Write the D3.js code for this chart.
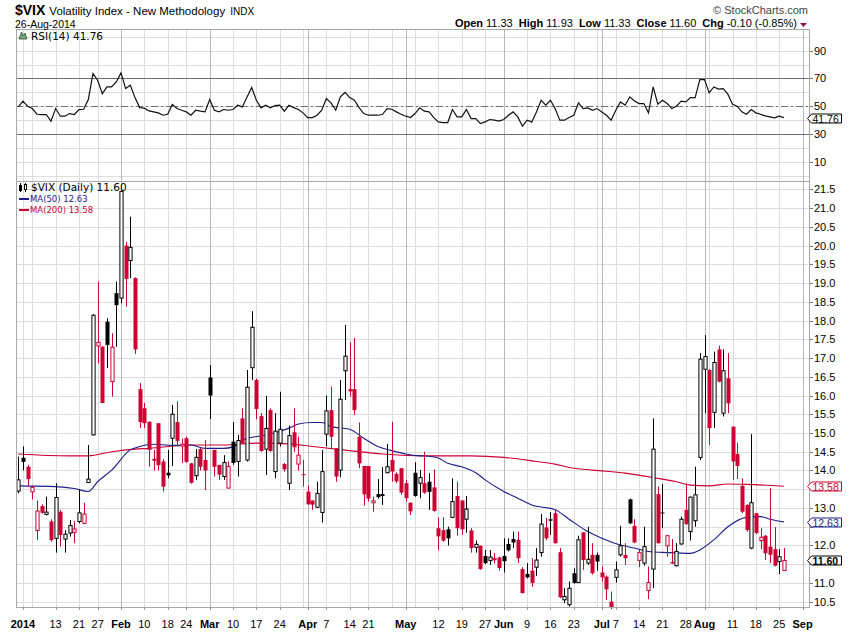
<!DOCTYPE html>
<html>
<head>
<meta charset="utf-8">
<script src="https://cdn.jsdelivr.net/npm/d3@7"></script>
<style>
  body { margin: 0; background: #fff; }
  svg { display: block; font-family: "Liberation Sans", Arial, sans-serif; }
</style>
</head>
<body>
<div id="chart"></div>
<script>
// Trading days shown on the chart (Dec 31 2013 .. Aug 26 2014)
const dates = [
  "2013-12-31",
  "2014-01-02","2014-01-03","2014-01-06","2014-01-07","2014-01-08","2014-01-09","2014-01-10",
  "2014-01-13","2014-01-14","2014-01-15","2014-01-16","2014-01-17","2014-01-21","2014-01-22",
  "2014-01-23","2014-01-24","2014-01-27","2014-01-28","2014-01-29","2014-01-30","2014-01-31",
  "2014-02-03","2014-02-04","2014-02-05","2014-02-06","2014-02-07","2014-02-10","2014-02-11",
  "2014-02-12","2014-02-13","2014-02-14","2014-02-18","2014-02-19","2014-02-20","2014-02-21",
  "2014-02-24","2014-02-25","2014-02-26","2014-02-27","2014-02-28",
  "2014-03-03","2014-03-04","2014-03-05","2014-03-06","2014-03-07","2014-03-10","2014-03-11",
  "2014-03-12","2014-03-13","2014-03-14","2014-03-17","2014-03-18","2014-03-19","2014-03-20",
  "2014-03-21","2014-03-24","2014-03-25","2014-03-26","2014-03-27","2014-03-28","2014-03-31",
  "2014-04-01","2014-04-02","2014-04-03","2014-04-04","2014-04-07","2014-04-08","2014-04-09",
  "2014-04-10","2014-04-11","2014-04-14","2014-04-15","2014-04-16","2014-04-17","2014-04-21",
  "2014-04-22","2014-04-23","2014-04-24","2014-04-25","2014-04-28","2014-04-29","2014-04-30",
  "2014-05-01","2014-05-02","2014-05-05","2014-05-06","2014-05-07","2014-05-08","2014-05-09",
  "2014-05-12","2014-05-13","2014-05-14","2014-05-15","2014-05-16","2014-05-19","2014-05-20",
  "2014-05-21","2014-05-22","2014-05-23","2014-05-27","2014-05-28","2014-05-29","2014-05-30",
  "2014-06-02","2014-06-03","2014-06-04","2014-06-05","2014-06-06","2014-06-09","2014-06-10",
  "2014-06-11","2014-06-12","2014-06-13","2014-06-16","2014-06-17","2014-06-18","2014-06-19",
  "2014-06-20","2014-06-23","2014-06-24","2014-06-25","2014-06-26","2014-06-27","2014-06-30",
  "2014-07-01","2014-07-02","2014-07-03","2014-07-07","2014-07-08","2014-07-09","2014-07-10",
  "2014-07-11","2014-07-14","2014-07-15","2014-07-16","2014-07-17","2014-07-18","2014-07-21",
  "2014-07-22","2014-07-23","2014-07-24","2014-07-25","2014-07-28","2014-07-29","2014-07-30",
  "2014-07-31","2014-08-01","2014-08-04","2014-08-05","2014-08-06","2014-08-07","2014-08-08",
  "2014-08-11","2014-08-12","2014-08-13","2014-08-14","2014-08-15","2014-08-18","2014-08-19",
  "2014-08-20","2014-08-21","2014-08-22","2014-08-25","2014-08-26"
];
// empty slots on the right side of the chart
const futureDates = ["2014-08-27","2014-08-28","2014-08-29","2014-09-02"];

const opens = [
  13.45,
  14.34,14.10,13.43,12.40,13.05,12.83,12.64,12.19,12.90,12.17,12.33,12.35,12.64,12.59,13.68,14.95,17.32,17.30,17.97,16.37,18.73,
  18.60,20.00,19.60,19.13,16.17,15.66,15.30,14.28,15.26,14.24,13.94,14.86,15.29,14.65,14.86,14.19,13.86,14.57,14.28,
  16.48,14.55,14.15,13.84,13.53,14.77,14.24,15.39,14.28,16.74,16.41,15.45,14.57,15.61,13.97,14.73,14.17,13.66,15.02,14.17,13.90,
  13.44,13.20,13.02,12.88,14.97,15.61,14.59,14.01,16.66,16.17,16.17,14.90,14.12,14.12,13.14,13.37,13.37,13.94,14.28,13.91,14.06,
  13.66,13.14,13.94,13.66,13.66,13.70,13.55,12.46,12.41,12.43,12.75,13.32,13.20,12.70,12.40,11.95,11.99,11.72,11.60,11.62,11.68,
  11.72,12.04,12.17,12.15,11.37,11.24,11.33,11.42,11.81,12.48,12.70,12.86,11.82,10.55,10.42,11.26,11.01,12.35,11.53,11.75,11.75,
  11.28,11.17,10.50,11.15,11.75,11.75,13.23,12.52,11.60,11.53,10.80,11.37,13.37,12.88,11.99,11.56,11.46,12.04,12.95,12.37,12.66,14.35,
  16.70,16.68,15.55,17.23,15.53,16.46,15.17,14.44,13.59,13.08,11.93,12.86,12.13,12.26,11.97,11.90,11.57,11.33
];
const highs = [
  14.37,
  14.64,14.15,13.60,13.20,13.10,13.30,12.70,13.66,12.95,12.41,12.68,12.65,13.48,13.14,14.68,18.17,19.04,17.32,18.06,17.66,19.04,
  21.48,20.10,20.77,19.15,16.33,15.80,15.30,14.55,15.26,14.30,14.55,15.75,15.84,14.85,14.90,14.20,14.57,14.60,14.81,
  16.81,14.55,14.15,14.41,14.24,15.29,14.95,15.66,16.68,18.25,16.45,15.53,15.99,15.66,15.53,16.10,14.20,15.20,15.66,14.90,14.28,
  13.60,13.20,13.70,14.55,16.00,16.24,14.60,16.41,17.88,17.42,17.53,15.28,14.12,14.12,13.30,13.77,14.09,14.71,15.30,13.95,14.06,
  13.75,13.15,14.22,14.01,14.50,13.93,14.03,12.75,12.75,12.50,13.79,13.70,13.20,13.32,12.46,12.13,12.00,11.88,11.88,11.80,11.70,
  12.19,12.19,12.37,12.37,11.42,11.53,11.66,11.93,12.84,12.73,12.89,12.95,11.93,10.86,11.04,11.39,12.26,12.35,12.50,12.06,11.81,
  11.44,11.20,10.77,11.57,12.52,12.06,13.25,12.70,11.88,12.50,11.44,15.39,13.57,13.64,12.27,12.17,12.06,12.77,13.66,13.30,14.10,17.13,
  17.61,16.70,17.17,17.33,17.23,17.13,15.17,14.74,13.79,13.10,14.97,12.87,12.46,12.28,13.53,12.49,11.90,11.93
];
const lows = [
  13.39,
  14.00,13.60,13.23,12.15,12.85,12.80,12.10,11.81,11.97,11.81,12.24,12.06,12.59,12.57,13.68,14.93,16.86,15.80,16.73,15.97,17.30,
  18.46,18.37,19.13,17.11,15.13,15.13,14.10,14.00,14.00,13.44,13.79,14.12,14.64,14.20,14.20,13.65,13.75,14.00,13.48,
  15.37,13.84,13.75,13.75,13.53,14.15,13.84,14.70,14.24,16.41,15.37,14.50,13.88,14.50,13.79,14.64,13.97,13.48,14.50,14.00,13.57,
  13.08,12.95,13.00,12.61,14.64,14.57,13.70,13.82,15.88,15.97,15.48,14.06,13.06,13.17,12.90,13.25,13.08,13.93,13.70,13.66,13.35,
  13.17,12.81,13.30,13.26,13.38,12.95,12.90,11.88,12.10,12.00,12.73,12.26,12.28,12.34,11.81,11.81,11.35,11.50,11.48,11.52,11.33,
  11.28,11.84,11.93,11.53,10.72,11.12,10.90,11.19,11.70,12.14,12.28,12.05,10.60,10.46,10.37,10.98,11.00,11.35,11.48,11.22,11.33,
  11.04,10.55,10.30,11.01,11.70,11.48,12.57,12.06,11.42,11.46,10.57,10.86,12.05,12.46,11.70,11.50,11.44,12.02,12.55,12.13,12.50,14.28,
  15.53,14.68,15.13,16.35,15.44,15.53,13.75,13.77,12.86,12.37,11.90,12.30,11.90,11.61,11.53,11.44,11.24,11.33
];
const closes = [
  13.75,
  14.23,13.77,13.55,12.92,12.87,12.89,12.14,13.28,12.28,12.30,12.53,12.44,12.87,12.84,13.77,18.14,17.42,15.80,17.35,17.29,18.41,
  21.44,19.11,19.95,17.23,15.29,15.26,14.55,14.30,14.14,13.57,13.87,15.50,14.79,14.70,14.23,13.67,14.35,14.10,14.00,
  16.00,14.10,13.89,14.21,14.11,14.20,14.80,14.73,16.22,17.82,15.64,14.52,15.12,14.52,15.05,15.10,14.03,14.93,14.62,14.41,13.88,
  13.10,13.09,13.39,13.97,15.59,14.90,13.84,15.90,17.05,16.11,15.61,14.19,13.36,13.25,13.19,13.29,13.32,14.10,13.97,13.71,13.41,
  13.26,12.91,13.32,13.81,13.41,13.43,12.92,12.24,12.13,12.19,13.17,12.46,12.43,12.97,11.93,12.03,11.37,11.53,11.69,11.65,11.40,
  11.58,11.87,12.08,11.66,10.73,11.15,11.00,11.61,12.57,12.19,12.66,12.06,10.62,10.64,10.86,11.00,12.15,11.61,11.63,11.26,11.57,
  11.15,10.83,10.33,11.35,11.99,11.66,12.59,12.08,11.81,11.97,11.01,14.57,12.06,12.86,12.26,11.52,11.84,12.70,12.57,13.29,13.35,16.97,
  17.04,15.13,16.88,16.37,16.66,15.79,14.24,14.12,12.90,12.41,13.14,12.33,12.22,11.79,11.75,11.46,11.70,11.60
];
const prevClose = 13.56; // close before the first bar, sets its colour

const rsi = [
  49.5,
  53.6,50.0,48.3,44.2,44.0,44.0,39.2,48.3,42.8,42.8,44.7,44.0,47.6,47.8,54.8,73.5,68.7,59.1,63.9,63.9,67.5,
  74.0,62.7,65.1,56.2,49.0,48.6,46.6,45.9,45.2,43.5,44.2,51.2,48.3,47.1,45.9,43.5,47.1,46.4,45.9,
  54.8,47.1,45.9,47.6,47.1,47.6,50.7,49.5,56.7,63.5,54.3,48.8,50.7,48.8,50.5,50.7,46.4,50.7,49.0,47.6,45.2,
  41.8,41.8,43.5,47.1,55.5,52.4,47.1,56.7,59.9,56.2,54.3,49.0,44.7,43.5,43.5,43.5,44.0,48.3,47.8,45.9,44.2,
  42.8,41.8,44.7,48.8,46.4,45.9,41.8,38.7,38.2,38.2,47.6,42.3,42.3,47.6,41.1,41.1,37.5,38.7,40.4,39.9,39.2,
  40.4,43.5,45.9,42.3,35.6,39.9,38.7,45.9,54.3,50.7,54.3,48.3,39.9,39.9,41.8,43.5,52.4,48.3,48.8,47.1,48.3,
  45.9,43.5,39.9,47.1,53.1,50.7,56.7,53.8,51.9,51.9,45.2,63.9,51.4,54.3,51.9,48.3,50.0,53.6,53.1,56.2,56.2,69.2,
  69.2,59.6,63.9,62.3,62.7,58.7,51.4,50.0,45.9,44.2,47.6,45.2,44.2,43.0,42.3,41.6,42.8,41.76
];

const ma50 = [
  [0,13.59],[8,13.57],[12,13.52],[15,13.44],[17,13.70],[20,14.01],[24,14.55],[26,14.64],[29,14.70],
  [33,14.67],[37,14.68],[40,14.59],[44,14.59],[46,14.63],[49,14.86],[52,14.92],[56,15.04],[58,15.13],
  [60,15.24],[63,15.28],[65,15.28],[67,15.17],[71,15.10],[74,14.86],[77,14.64],[80,14.53],[83,14.44],
  [86,14.39],[88,14.38],[90,14.33],[92,14.19],[95,14.10],[98,13.94],[100,13.75],[104,13.44],[107,13.26],
  [110,13.08],[115,12.95],[118,12.70],[122,12.37],[125,12.19],[129,12.01],[132,11.93],[135,11.84],
  [139,11.81],[144,11.79],[146,11.88],[149,12.15],[152,12.50],[156,12.75],[159,12.77],[161,12.70],[164,12.63]
];
const ma200 = [
  [0,14.44],[11,14.39],[15,14.39],[20,14.50],[25,14.57],[28,14.59],[37,14.68],[44,14.68],[51,14.73],
  [58,14.71],[63,14.64],[71,14.53],[78,14.44],[88,14.39],[97,14.39],[104,14.35],[111,14.24],[115,14.17],
  [118,14.08],[123,14.01],[130,13.93],[137,13.79],[141,13.70],[144,13.61],[148,13.59],[152,13.64],
  [156,13.63],[164,13.58]
];

const priceTicks = [10.5,11.0,11.5,12.0,12.5,13.0,13.5,14.0,14.5,15.0,15.5,16.0,16.5,17.0,17.5,18.0,18.5,19.0,19.5,20.0,20.5,21.0,21.5];
const rsiTicks = [10,30,50,70,90];
const rsiGrid = [0,10,20,30,40,50,60,70,80,90,100];

const tickDates = ["2014-01-02","2014-01-13","2014-01-21","2014-01-27","2014-02-03","2014-02-10","2014-02-18","2014-02-24",
  "2014-03-03","2014-03-10","2014-03-17","2014-03-24","2014-04-01","2014-04-07","2014-04-14","2014-04-21",
  "2014-05-01","2014-05-12","2014-05-19","2014-05-27","2014-06-02","2014-06-09","2014-06-16","2014-06-23",
  "2014-07-01","2014-07-07","2014-07-14","2014-07-21","2014-07-28","2014-08-01","2014-08-11","2014-08-18",
  "2014-08-25","2014-09-02"];
const tickLabels = ["2014","13","21","27","Feb","10","18","24","Mar","10","17","24","Apr","7","14","21",
  "May","12","19","27","Jun","9","16","23","Jul","7","14","21","28","Aug","11","18","25","Sep"];
const monthTicks = ["2014","Feb","Mar","Apr","May","Jun","Jul","Aug","Sep"];
// week starts that get a grid line but no label
const extraGridDates = ["2014-01-06","2014-03-31","2014-04-28","2014-05-05","2014-06-30","2014-08-04"];

const headerParts = [["Open","11.33"],["High","11.93"],["Low","11.33"],["Close","11.60"],["Chg","-0.10 (-0.85%)"]];

// colours
const red = "#cc0033";
const navy = "#1c1c8a";

const width = 850, height = 633;
const left = 16, right = 810;
const rsiTop = 29.5, mainTop = 181.5, mainBottom = 607;

const allDates = dates.concat(futureDates);
const dateIndex = new Map(allDates.map((d, i) => [d, i]));

const x = d3.scaleLinear().domain([-0.49, 169.6]).range([left, right]);
const y = d3.scaleLinear().domain([21.5, 10.5]).range([189.3, 601.7]);
const yR = d3.scaleLinear().domain([90, 10]).range([50.7, 161.7]);

const svg = d3.select("#chart").append("svg")
    .attr("width", width)
    .attr("height", height);

// ---- grid ----
const grid = svg.append("g").attr("shape-rendering", "crispEdges");

grid.selectAll("line.hp")
  .data(priceTicks)
  .join("line")
    .attr("x1", left).attr("x2", right)
    .attr("y1", d => Math.round(y(d)) + 0.5)
    .attr("y2", d => Math.round(y(d)) + 0.5)
    .attr("stroke", "#dddddd");

grid.selectAll("line.hr")
  .data(rsiGrid)
  .join("line")
    .attr("x1", left).attr("x2", right)
    .attr("y1", d => Math.round(yR(d)) + 0.5)
    .attr("y2", d => Math.round(yR(d)) + 0.5)
    .attr("stroke", "#dddddd");

const vGrid = tickDates.map((d, i) => ({ d, month: monthTicks.includes(tickLabels[i]) && tickLabels[i] !== "2014" }))
  .concat(extraGridDates.map(d => ({ d, month: false })));

grid.selectAll("line.v")
  .data(vGrid)
  .join("line")
    .attr("x1", d => Math.round(x(dateIndex.get(d.d))) + 0.5)
    .attr("x2", d => Math.round(x(dateIndex.get(d.d))) + 0.5)
    .attr("y1", rsiTop).attr("y2", mainBottom)
    .attr("stroke", d => d.month ? "#b9b9b9" : "#dddddd");

// ---- RSI panel ----
const rsiG = svg.append("g");

rsiG.selectAll("line.lvl")
  .data([70, 30])
  .join("line")
    .attr("x1", left).attr("x2", right)
    .attr("y1", d => Math.round(yR(d)) + 0.5)
    .attr("y2", d => Math.round(yR(d)) + 0.5)
    .attr("stroke", "#707070")
    .attr("shape-rendering", "crispEdges");

rsiG.append("line")
    .attr("x1", left).attr("x2", right)
    .attr("y1", Math.round(yR(50)) + 0.5)
    .attr("y2", Math.round(yR(50)) + 0.5)
    .attr("stroke", "#707070")
    .attr("stroke-dasharray", "7,3,2,3")
    .attr("shape-rendering", "crispEdges");

rsiG.append("path")
    .datum(rsi)
    .attr("fill", "none")
    .attr("stroke", "#111")
    .attr("stroke-width", 1.2)
    .attr("d", d3.line().x((d, i) => x(i)).y(d => yR(d)));

// ---- moving averages ----
const maLine = d3.line().x(d => x(d[0])).y(d => y(d[1])).curve(d3.curveMonotoneX);

svg.append("path")
    .datum(ma200)
    .attr("fill", "none")
    .attr("stroke", red)
    .attr("stroke-width", 1.1)
    .attr("d", maLine);

svg.append("path")
    .datum(ma50)
    .attr("fill", "none")
    .attr("stroke", navy)
    .attr("stroke-width", 1.1)
    .attr("d", maLine);

// ---- candles ----
const candles = dates.map((d, i) => ({
  i,
  o: opens[i], h: highs[i], l: lows[i], c: closes[i],
  up: closes[i] >= (i === 0 ? prevClose : closes[i - 1])
}));

const candle = svg.append("g")
  .selectAll("g")
  .data(candles)
  .join("g");

candle.append("line")
    .attr("x1", d => Math.round(x(d.i)) + 0.5)
    .attr("x2", d => Math.round(x(d.i)) + 0.5)
    .attr("y1", d => y(d.h))
    .attr("y2", d => y(d.l))
    .attr("stroke", d => d.up ? "#000" : red)
    .attr("stroke-width", 1);

candle.append("rect")
    .attr("x", d => Math.round(x(d.i)) + 0.5 - (d.c > d.o ? 1.6 : 2))
    .attr("width", d => d.c > d.o ? 3.2 : 4)
    .attr("y", d => Math.min(y(d.o), y(d.c)))
    .attr("height", d => Math.max(1, Math.abs(y(d.o) - y(d.c))))
    .attr("fill", d => d.c > d.o ? "#fff" : (d.up ? "#000" : red))
    .attr("stroke", d => d.c > d.o ? (d.up ? "#000" : red) : "none")
    .attr("stroke-width", 1);

// ---- panel borders ----
svg.append("g")
    .attr("shape-rendering", "crispEdges")
    .attr("fill", "none")
    .attr("stroke", "#a8a8a8")
  .selectAll("rect")
  .data([[rsiTop, mainTop], [mainTop, mainBottom]])
  .join("rect")
    .attr("x", left + 0.5)
    .attr("y", d => d[0])
    .attr("width", right - left - 1)
    .attr("height", d => d[1] - d[0]);

// value tags on the right axis
const tags = [
  { v: 13.58, yPos: y(13.58), color: red, bold: false },
  { v: 12.63, yPos: y(12.63), color: navy, bold: false },
  { v: 11.60, yPos: y(11.60), color: "#000", bold: true },
  { v: 41.76, yPos: yR(41.76), color: "#000", bold: false }
];

// ---- right axis (labels under a tag are hidden, as on the original) ----
const freeOfTags = py => tags.every(t => Math.abs(t.yPos - py) > 7);

const axisG = svg.append("g").attr("font-size", 11).attr("fill", "#000");

axisG.selectAll("text.p")
  .data(priceTicks.filter(d => freeOfTags(y(d))))
  .join("text")
    .attr("x", 814)
    .attr("y", d => y(d) + 4)
    .text(d => d.toFixed(1));

axisG.selectAll("text.r")
  .data(rsiTicks)
  .join("text")
    .attr("x", 814)
    .attr("y", d => yR(d) + 4)
    .text(d => d);

svg.append("g")
    .attr("stroke", "#777")
    .attr("shape-rendering", "crispEdges")
  .selectAll("line")
  .data(priceTicks.map(y).concat(rsiTicks.map(yR)))
  .join("line")
    .attr("x1", right).attr("x2", right + 3)
    .attr("y1", d => Math.round(d) + 0.5)
    .attr("y2", d => Math.round(d) + 0.5);

const tag = svg.append("g").selectAll("g").data(tags).join("g")
    .attr("transform", d => `translate(0,${Math.round(d.yPos) + 0.5})`);

tag.append("path")
    .attr("d", "M807.5,0 L811.5,-4.5 L841.5,-4.5 L841.5,4.5 L811.5,4.5 Z")
    .attr("fill", "#fff")
    .attr("stroke", d => d.color)
    .attr("stroke-width", 1);

tag.append("text")
    .attr("x", 812.5)
    .attr("y", 4)
    .attr("font-size", 10.5)
    .attr("font-weight", d => d.bold ? "bold" : "normal")
    .attr("fill", d => d.color)
    .text(d => d.v.toFixed(2));

// ---- bottom axis ----
const bottom = svg.append("g");

bottom.selectAll("line")
  .data(tickDates)
  .join("line")
    .attr("x1", d => Math.round(x(dateIndex.get(d))) + 0.5)
    .attr("x2", d => Math.round(x(dateIndex.get(d))) + 0.5)
    .attr("y1", mainBottom).attr("y2", mainBottom + 3)
    .attr("stroke", "#999")
    .attr("shape-rendering", "crispEdges");

bottom.selectAll("text")
  .data(tickDates)
  .join("text")
    .attr("x", d => x(dateIndex.get(d)))
    .attr("y", 628)
    .attr("text-anchor", "middle")
    .attr("font-size", 11)
    .attr("font-weight", (d, i) => monthTicks.includes(tickLabels[i]) ? "bold" : "normal")
    .text((d, i) => tickLabels[i]);

// ---- header ----
const head = svg.append("g");

const title = head.append("text").attr("x", 15).attr("y", 15);
title.append("tspan").attr("font-size", 14).attr("font-weight", "bold").text("$VIX");
title.append("tspan").attr("font-size", 11.5).attr("dx", 4).text("Volatility Index - New Methodology");
title.append("tspan").attr("font-size", 10).attr("dx", 5).text("INDX");

head.append("text").attr("x", 15).attr("y", 28).attr("font-size", 10.5).text("26-Aug-2014");

head.append("text")
    .attr("x", 808).attr("y", 14)
    .attr("text-anchor", "end")
    .attr("font-size", 11)
    .attr("fill", "#444")
    .text("\u00a9 StockCharts.com");

const ohlc = head.append("text")
    .attr("x", 797).attr("y", 27)
    .attr("text-anchor", "end")
    .attr("font-size", 11);
headerParts.forEach(([k, v], i) => {
  ohlc.append("tspan").attr("font-weight", "bold").attr("dx", i ? 6 : 0).text(k);
  ohlc.append("tspan").attr("dx", 3).text(v);
});

head.append("path")
    .attr("d", "M800,23 L807,23 L803.5,27 Z")
    .attr("fill", "#8b1046");

// ---- panel legends ----
const legendFont = "'DejaVu Sans', Verdana, sans-serif";

// RSI icon + label
svg.append("path")
    .attr("d", "M19,39 L21.5,32 L23.5,36 L25,33 L27,39 Z")
    .attr("fill", "#7aa37a")
    .attr("stroke", "#2e4f2e")
    .attr("stroke-width", 0.8);
svg.append("text")
    .attr("x", 31).attr("y", 40)
    .style("font-family", legendFont)
    .attr("font-size", 10.5)
    .text("RSI(14) 41.76");

// price icon + label
svg.append("g").attr("stroke", "#000").attr("shape-rendering", "crispEdges")
  .call(g => {
    g.append("line").attr("x1", 20.5).attr("x2", 20.5).attr("y1", 183).attr("y2", 192);
    g.append("rect").attr("x", 19.5).attr("y", 185).attr("width", 2).attr("height", 5).attr("fill", "#000");
    g.append("line").attr("x1", 25.5).attr("x2", 25.5).attr("y1", 183).attr("y2", 192);
    g.append("rect").attr("x", 24.5).attr("y", 184.5).attr("width", 2).attr("height", 5).attr("fill", "#fff");
  });
svg.append("text")
    .attr("x", 31).attr("y", 191)
    .style("font-family", legendFont)
    .attr("font-size", 10.5)
    .text("$VIX (Daily) 11.60");

const legend = [
  { label: "MA(50) 12.63", color: navy, yPos: 202 },
  { label: "MA(200) 13.58", color: red, yPos: 213 }
];
const lg = svg.append("g").selectAll("g").data(legend).join("g");
lg.append("line")
    .attr("x1", 19).attr("x2", 29)
    .attr("y1", d => d.yPos - 3).attr("y2", d => d.yPos - 3)
    .attr("stroke", d => d.color)
    .attr("stroke-width", 2);
lg.append("text")
    .attr("x", 30).attr("y", d => d.yPos)
    .style("font-family", legendFont)
    .attr("font-size", 8.5)
    .attr("fill", d => d.color)
    .text(d => d.label);
</script>
</body>
</html>
